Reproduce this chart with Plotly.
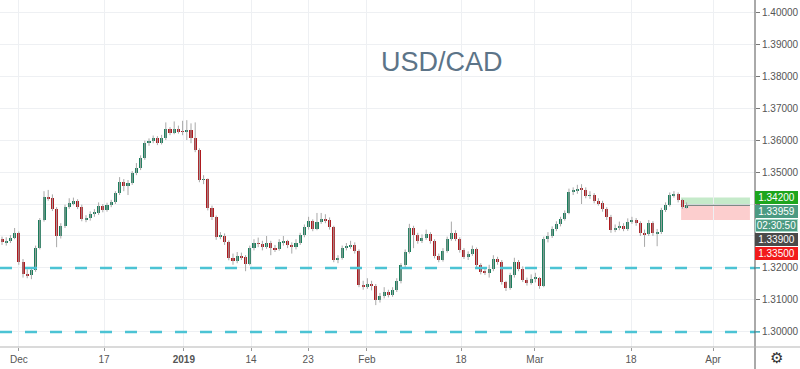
import plotly.graph_objects as go

# ---------------- data (12h candles, USD/CAD) ----------------
first_open = 1.3290
close = [
    1.3281, 1.3284, 1.3294, 1.3309, 1.3219, 1.3181, 1.3178, 1.3194, 1.3263, 1.3350,
    1.3422, 1.3418, 1.3384, 1.3300, 1.3331, 1.3391, 1.3403, 1.3409, 1.3391, 1.3353,
    1.3357, 1.3369, 1.3372, 1.3394, 1.3381, 1.3397, 1.3406, 1.3434, 1.3469, 1.3456,
    1.3466, 1.3497, 1.3512, 1.3544, 1.3591, 1.3597, 1.3606, 1.3591, 1.3606, 1.3634,
    1.3622, 1.3634, 1.3628, 1.3625, 1.3631, 1.3606, 1.3569, 1.3475, 1.3478, 1.3388,
    1.3359, 1.3297, 1.3300, 1.3281, 1.3231, 1.3222, 1.3237, 1.3234, 1.3213, 1.3263,
    1.3278, 1.3275, 1.3266, 1.3278, 1.3263, 1.3259, 1.3281, 1.3285, 1.3272, 1.3266,
    1.3278, 1.3303, 1.3328, 1.3347, 1.3322, 1.3344, 1.3353, 1.3349, 1.3328, 1.3225,
    1.3231, 1.3263, 1.3266, 1.3272, 1.3253, 1.3147, 1.3141, 1.3150, 1.3144, 1.3100,
    1.3113, 1.3125, 1.3116, 1.3131, 1.3159, 1.3209, 1.3250, 1.3325, 1.3303, 1.3284,
    1.3294, 1.3306, 1.3284, 1.3237, 1.3225, 1.3253, 1.3291, 1.3309, 1.3291, 1.3256,
    1.3234, 1.3244, 1.3259, 1.3209, 1.3188, 1.3185, 1.3197, 1.3228, 1.3219, 1.3156,
    1.3138, 1.3178, 1.3219, 1.3197, 1.3163, 1.3153, 1.3166, 1.3170, 1.3144, 1.3291,
    1.3300, 1.3322, 1.3338, 1.3353, 1.3372, 1.3438, 1.3441, 1.3447, 1.3444, 1.3425,
    1.3428, 1.3409, 1.3403, 1.3384, 1.3359, 1.3319, 1.3325, 1.3331, 1.3322, 1.3344,
    1.3350, 1.3341, 1.3309, 1.3306, 1.3341, 1.3309, 1.3313, 1.3381, 1.3397, 1.3428,
    1.3431, 1.3412, 1.3390, 1.33959,
]
high = [
    1.3298, 1.3296, 1.3303, 1.3325, 1.3314, 1.3228, 1.3196, 1.3200, 1.3270, 1.3356,
    1.3440, 1.3444, 1.3430, 1.3390, 1.3340, 1.3398, 1.3418, 1.3420, 1.3415, 1.3398,
    1.3365, 1.3377, 1.3384, 1.3405, 1.3400, 1.3404, 1.3413, 1.3440, 1.3484, 1.3478,
    1.3475, 1.3503, 1.3528, 1.3552, 1.3598, 1.3605, 1.3614, 1.3612, 1.3616, 1.3655,
    1.3640, 1.3658, 1.3645, 1.3660, 1.3662, 1.3652, 1.3655, 1.3574, 1.3490, 1.3480,
    1.3395, 1.3364, 1.3312, 1.3308, 1.3286, 1.3245, 1.3250, 1.3248, 1.3240, 1.3270,
    1.3290, 1.3295, 1.3285, 1.3300, 1.3285, 1.3272, 1.3290, 1.3300, 1.3288, 1.3280,
    1.3290, 1.3310, 1.3336, 1.3360, 1.3352, 1.3372, 1.3372, 1.3368, 1.3358, 1.3332,
    1.3240, 1.3270, 1.3278, 1.3285, 1.3280, 1.3258, 1.3160, 1.3168, 1.3160, 1.3150,
    1.3122, 1.3140, 1.3132, 1.3140, 1.3168, 1.3215, 1.3258, 1.3338, 1.3332, 1.3310,
    1.3305, 1.3320, 1.3312, 1.3290, 1.3245, 1.3262, 1.3298, 1.3345, 1.3318, 1.3296,
    1.3262, 1.3252, 1.3270, 1.3264, 1.3215, 1.3200, 1.3210, 1.3240, 1.3235, 1.3225,
    1.3160, 1.3185, 1.3232, 1.3225, 1.3205, 1.3170, 1.3180, 1.3185, 1.3172, 1.3298,
    1.3312, 1.3330, 1.3346, 1.3360, 1.3380, 1.3448, 1.3452, 1.3460, 1.3462, 1.3452,
    1.3440, 1.3434, 1.3418, 1.3410, 1.3390, 1.3366, 1.3336, 1.3345, 1.3340, 1.3355,
    1.3360, 1.3356, 1.3346, 1.3320, 1.3350, 1.3346, 1.3322, 1.3388, 1.3405, 1.3436,
    1.3440, 1.3436, 1.3416, 1.3405,
]
low = [
    1.3272, 1.3270, 1.3278, 1.3290, 1.3210, 1.3170, 1.3168, 1.3165, 1.3188, 1.3258,
    1.3345, 1.3410, 1.3378, 1.3265, 1.3292, 1.3325, 1.3385, 1.3396, 1.3384, 1.3346,
    1.3343, 1.3348, 1.3360, 1.3366, 1.3374, 1.3376, 1.3390, 1.3400, 1.3428, 1.3440,
    1.3428, 1.3460, 1.3490, 1.3506, 1.3538, 1.3582, 1.3590, 1.3584, 1.3586, 1.3600,
    1.3615, 1.3618, 1.3620, 1.3615, 1.3600, 1.3590, 1.3562, 1.3468, 1.3462, 1.3380,
    1.3350, 1.3288, 1.3290, 1.3272, 1.3224, 1.3210, 1.3215, 1.3225, 1.3190, 1.3208,
    1.3255, 1.3265, 1.3255, 1.3260, 1.3240, 1.3250, 1.3254, 1.3270, 1.3262, 1.3245,
    1.3258, 1.3272, 1.3296, 1.3320, 1.3315, 1.3318, 1.3338, 1.3340, 1.3320, 1.3218,
    1.3215, 1.3226, 1.3255, 1.3260, 1.3245, 1.3140, 1.3132, 1.3135, 1.3130, 1.3084,
    1.3092, 1.3105, 1.3108, 1.3110, 1.3125, 1.3152, 1.3202, 1.3245, 1.3262, 1.3276,
    1.3278, 1.3288, 1.3276, 1.3230, 1.3218, 1.3220, 1.3248, 1.3285, 1.3284, 1.3248,
    1.3228, 1.3225, 1.3238, 1.3202, 1.3180, 1.3178, 1.3170, 1.3190, 1.3210, 1.3148,
    1.3128, 1.3132, 1.3170, 1.3190, 1.3156, 1.3145, 1.3148, 1.3155, 1.3135, 1.3140,
    1.3280, 1.3294, 1.3315, 1.3330, 1.3348, 1.3368, 1.3428, 1.3432, 1.3400, 1.3418,
    1.3416, 1.3402, 1.3395, 1.3376, 1.3350, 1.3310, 1.3312, 1.3318, 1.3315, 1.3316,
    1.3338, 1.3332, 1.3300, 1.3266, 1.3300, 1.3300, 1.3268, 1.3306, 1.3375, 1.3392,
    1.3420, 1.3405, 1.3385, 1.3386,
]

tick_pos = [4.0, 24.3, 43.3, 59.3, 72.9, 86.9, 109.3, 126.9, 149.8, 169.3]
tick_labels = ["Dec", "17", "<b>2019</b>", "14", "23", "Feb", "18", "Mar", "18", "Apr"]

price_ticks = [1.30, 1.31, 1.32, 1.33, 1.34, 1.35, 1.36, 1.37, 1.38, 1.39, 1.40]
price_tick_text = ["1.30000", "1.31000", "1.32000", "", "", "1.35000",
                   "1.36000", "1.37000", "1.38000", "1.39000", "1.40000"]

levels = [1.32, 1.30]               # dashed support lines
target_price = 1.3420
entry_price = 1.3396
stop_price = 1.3350
axis_labels = ["1.34200", "1.33959", "02:30:50", "1.33900", "1.33500"]

# ---------------- derived ----------------
open_ = [first_open] + close[:-1]
idx = list(range(len(close)))
hi = [max(h, o, c) for h, o, c in zip(high, open_, close)]
lo = [min(l, o, c) for l, o, c in zip(low, open_, close)]

UP, DOWN, WICK = "#1b7d5c", "#ad1a1f", "#a8a8a8"

wx, wy = [], []
for i, h, l in zip(idx, hi, lo):
    wx += [i, i, None]
    wy += [l, h, None]

base = [min(o, c) for o, c in zip(open_, close)]
height = [max(abs(c - o), 0.00008) for o, c in zip(open_, close)]
colors = [UP if c >= o else DOWN for o, c in zip(open_, close)]

fig = go.Figure()
fig.add_trace(go.Scatter(x=wx, y=wy, mode="lines",
                         line=dict(color=WICK, width=1), hoverinfo="skip"))
fig.add_trace(go.Bar(x=idx, y=height, base=base, width=0.72,
                     marker=dict(color=colors, line=dict(width=0)), hoverinfo="skip"))

PLOT_W, PLOT_H = 755, 347
W, H = 800, 369

shapes = []
for lv in levels:
    shapes.append(dict(type="line", xref="paper", yref="y", x0=0, x1=1, y0=lv, y1=lv,
                       line=dict(color="#4cc3d4", width=2.5, dash="12px,13px")))
    shapes.append(dict(type="line", xref="paper", yref="y", x0=1, x1=1 + 5 / PLOT_W,
                       y0=lv, y1=lv, line=dict(color="#4cc3d4", width=1.5)))

# position (long) box
bx0, bx1 = 161.7, 178.1
shapes += [
    dict(type="rect", xref="x", yref="y", x0=bx0, x1=bx1, y0=entry_price, y1=target_price,
         fillcolor="rgba(76,190,90,0.32)", line=dict(width=0), layer="below"),
    dict(type="rect", xref="x", yref="y", x0=bx0, x1=bx1, y0=stop_price, y1=entry_price,
         fillcolor="rgba(245,80,80,0.28)", line=dict(width=0), layer="below"),
    dict(type="line", xref="x", yref="y", x0=len(close) - 1, x1=bx1, y0=entry_price, y1=entry_price,
         line=dict(color="#7d8a86", width=1.2)),
]
# frame lines
shapes += [
    dict(type="line", xref="paper", yref="paper", x0=1, x1=1, y0=-(H - PLOT_H) / PLOT_H, y1=1,
         line=dict(color="#555555", width=1)),
    dict(type="line", xref="paper", yref="paper", x0=0, x1=W / PLOT_W, y0=0, y1=0,
         line=dict(color="#b5b5b5", width=1)),
]

annotations = [
    dict(text="USD/CAD", xref="paper", yref="paper", x=442 / PLOT_W, y=1 - 62 / PLOT_H,
         xanchor="center", yanchor="middle", showarrow=False,
         font=dict(size=27, color="#5c7488", family="Liberation Sans, Arial, sans-serif")),
    dict(text="⚙", xref="paper", yref="paper", x=776 / PLOT_W, y=-11 / PLOT_H,
         xanchor="center", yanchor="middle", showarrow=False,
         font=dict(size=15, color="#333333")),
]
label_bg = ["#1da51d", "#4b9a82", "#4b9a82", "#4a4a4a", "#f21b1b"]
label_border = ["#1da51d", "#4b9a82", "#a8dccb", "#4a4a4a", "#f21b1b"]
label_px = [197, 211, 225, 239, 253]
for t, bg, bc, py in zip(axis_labels, label_bg, label_border, label_px):
    annotations.append(dict(text=t, xref="paper", yref="paper", x=1, y=1 - py / PLOT_H,
                            xanchor="left", yanchor="middle", showarrow=False,
                            bgcolor=bg, bordercolor=bc, borderwidth=1, borderpad=0,
                            width=41, height=11,
                            font=dict(size=10, color="white",
                                      family="Liberation Sans, Arial, sans-serif")))

fig.update_layout(
    width=W, height=H,
    margin=dict(l=0, r=W - PLOT_W, t=0, b=H - PLOT_H),
    paper_bgcolor="white", plot_bgcolor="white",
    showlegend=False, bargap=0, hovermode=False,
    font=dict(family="Liberation Sans, Arial, sans-serif", size=10, color="#4a4a4a"),
    xaxis=dict(range=[-0.48, 179.3], tickvals=tick_pos, ticktext=tick_labels,
               showgrid=True, gridcolor="#eef0f3", gridwidth=1, zeroline=False,
               ticks="outside", ticklen=3, tickcolor="#999999", showline=False,
               tickfont=dict(size=10, color="#555555"), fixedrange=True),
    yaxis=dict(side="right", range=[1.29531, 1.40375], tickvals=price_ticks,
               ticktext=price_tick_text, showgrid=True, gridcolor="#eef0f3", gridwidth=1,
               zeroline=False, ticks="outside", ticklen=4, tickcolor="#777777",
               showline=False, tickfont=dict(size=10, color="#555555"), fixedrange=True),
    shapes=shapes, annotations=annotations,
)

fig.write_html("out.html", config={"displayModeBar": False},
               post_script="document.body.style.margin='0px';document.body.style.overflow='hidden';")
